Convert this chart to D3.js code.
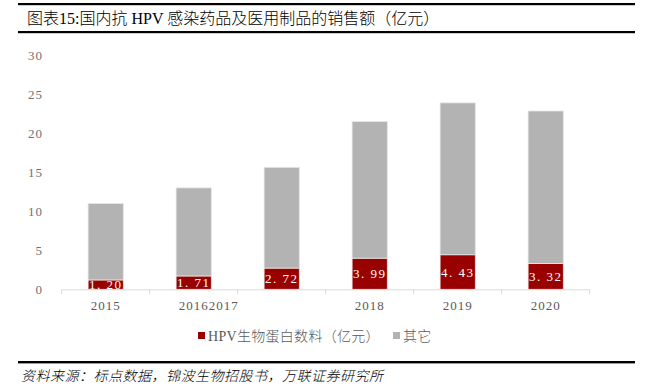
<!DOCTYPE html>
<html><head><meta charset="utf-8">
<script src="https://cdn.jsdelivr.net/npm/d3@7/dist/d3.min.js"></script>
<style>
html,body{margin:0;padding:0;background:#fff;}
svg{display:block;}
</style></head>
<body>
<svg id="c" width="648" height="391"></svg>
<script>
const years = ["2015","2016","2017","2018","2019","2020"];
const tickLabels = ["2015","20162017","","2018","2019","2020"];
const hpvValues = [1.20, 1.71, 2.72, 3.99, 4.43, 3.32];
const otherValues = [9.80, 11.29, 12.92, 17.51, 19.47, 19.54];
const yTicks = [0,5,10,15,20,25,30];
const seriesNames = ["HPV生物蛋白数料（亿元）","其它"];
const colors = ["#990000","#b3b3b3"];
const titleText = "图表15:国内抗 HPV 感染药品及医用制品的销售额（亿元）";
const sourceText = "资料来源：标点数据，锦波生物招股书，万联证券研究所";

const svg = d3.select("#c");
const cjk = "'Liberation Serif','Noto Sans CJK SC',serif";

// header rules and title
svg.append("rect").attr("x",18).attr("y",3).attr("width",617).attr("height",2.2).attr("fill","#000");
svg.append("rect").attr("x",18).attr("y",31).attr("width",617).attr("height",2.2).attr("fill","#000");
svg.append("text").attr("x",27).attr("y",24).attr("font-family",cjk).attr("font-size",16)
  .attr("font-weight",300).attr("fill","#000").text(titleText);

// footer
svg.append("rect").attr("x",18).attr("y",361).attr("width",617).attr("height",2.4).attr("fill","#000");
svg.append("text").attr("x",21).attr("y",381).attr("font-family",cjk).attr("font-size",14)
  .attr("font-weight",300).attr("letter-spacing",0.5)
  .attr("font-style","italic").attr("fill","#000").text(sourceText);

const x = d3.scaleBand().domain(d3.range(years.length)).range([61.7,589.7]).paddingInner(0.6).paddingOuter(0.3);
const y = d3.scaleLinear().domain([0,30]).range([289.3,55.3]);

// y labels
svg.append("g").selectAll("text").data(yTicks).join("text")
  .attr("x",43).attr("y",d=>y(d)).attr("dy","0.35em").attr("text-anchor","end")
  .attr("font-family","'Liberation Serif',serif").attr("font-size",13).attr("letter-spacing",1)
  .attr("fill","#707070").text(d=>d);

// stacked bars
const stackData = years.map((yr,i)=>({i, hpv:hpvValues[i], other:otherValues[i]}));
const stack = d3.stack().keys(["hpv","other"])(stackData);
svg.append("g").selectAll("g").data(stack).join("g")
  .attr("fill",(d,k)=>colors[k])
  .selectAll("rect").data(d=>d).join("rect")
  .attr("x",d=>x(d.data.i)).attr("width",x.bandwidth())
  .attr("y",d=>y(d[1])).attr("height",d=>y(d[0])-y(d[1]))
  .attr("stroke","#e6e6e6").attr("stroke-width",0.8);

// value labels
svg.append("g").selectAll("text").data(stackData).join("text")
  .attr("x",d=>x(d.i)+x.bandwidth()/2).attr("y",d=>y(d.hpv/2)).attr("dy","0.36em")
  .attr("text-anchor","middle").attr("font-family","'Liberation Serif',serif").attr("font-size",13)
  .attr("letter-spacing",1.5).attr("fill","#fff").text(d=>d.hpv.toFixed(2).replace(".",". "));

// x axis
const gx = svg.append("g").attr("transform",`translate(0,${y(0)})`);
const step = x.step(), off = (step - x.bandwidth())/2;
const bounds = d3.range(years.length+1).map(i=> i<years.length ? x(i)-off : x(years.length-1)+x.bandwidth()+off);
gx.append("line").attr("x1",bounds[0]).attr("x2",bounds[bounds.length-1]).attr("y1",0.5).attr("y2",0.5)
  .attr("stroke","#d9d9d9").attr("stroke-width",1);
gx.selectAll("line.t").data(bounds).join("line").attr("class","t")
  .attr("x1",d=>d).attr("x2",d=>d).attr("y1",0).attr("y2",5).attr("stroke","#d9d9d9");
gx.selectAll("text").data(tickLabels).join("text")
  .attr("x",(d,i)=>x(i)+x.bandwidth()/2).attr("dx",(d,i)=>i===1?15:0).attr("y",16).attr("dy","0.35em")
  .attr("text-anchor","middle").attr("font-family","'Liberation Serif',serif").attr("font-size",13)
  .attr("letter-spacing",1).attr("fill","#595959").text(d=>d);

// legend
const legX = [198, 393];
const leg = svg.append("g");
seriesNames.forEach((n,k)=>{
  leg.append("rect").attr("x",legX[k]).attr("y",332).attr("width",7).attr("height",7).attr("fill",colors[k]);
  leg.append("text").attr("x",legX[k]+10).attr("y",336).attr("dy","0.35em")
    .attr("font-family",cjk).attr("font-size",14).attr("font-weight",300).attr("letter-spacing",0.3)
    .attr("fill","#595959").text(n);
});
</script>
</body></html>
